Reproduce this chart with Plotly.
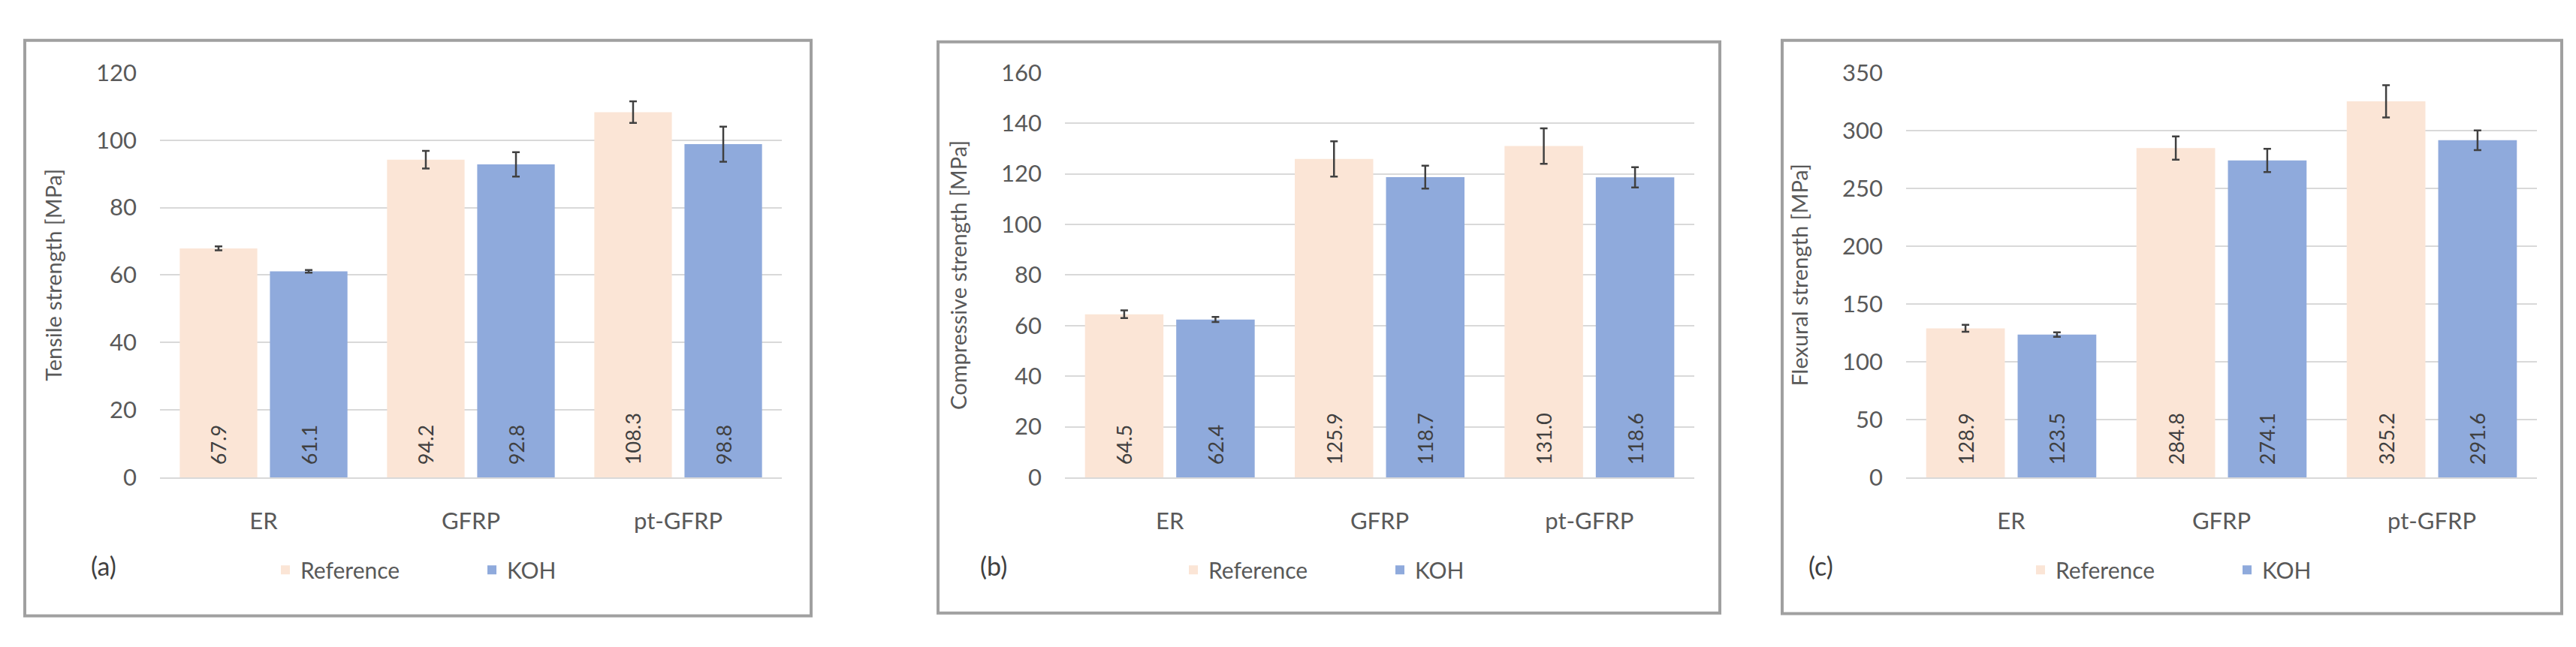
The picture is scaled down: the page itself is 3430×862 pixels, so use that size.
import plotly.graph_objects as go

categories = ["ER", "GFRP", "pt-GFRP"]
series_names = ["Reference", "KOH"]

tensile_ref = [67.9, 94.2, 108.3]
tensile_koh = [61.1, 92.8, 98.8]
tensile_ref_err = [0.6, 2.6, 3.2]
tensile_koh_err = [0.4, 3.6, 5.2]

compressive_ref = [64.5, 125.9, 131.0]
compressive_koh = [62.4, 118.7, 118.6]
compressive_ref_err = [1.5, 7.0, 7.0]
compressive_koh_err = [1.0, 4.5, 4.0]

flexural_ref = [128.9, 284.8, 325.2]
flexural_koh = [123.5, 274.1, 291.6]
flexural_ref_err = [3.0, 10.0, 14.0]
flexural_koh_err = [2.0, 10.0, 8.5]

y_titles = ["Tensile strength [MPa]", "Compressive strength [MPa]", "Flexural strength [MPa]"]
y_ranges = [(0, 120, 20), (0, 160, 20), (0, 350, 50)]
panel_labels = ["(a)", "(b)", "(c)"]

W, H = 3430, 862
REF_COLOR = "#FBE5D6"
KOH_COLOR = "#8FAADC"
TEXT_GRAY = "#595959"
FONT = "Lato, 'Open Sans', sans-serif"

# pixel layout of each panel: (box x0, box x1, box y0, box y1, plot x0, plot x1)
panels = [
    (25, 1072, 27, 829, 205, 1033),
    (1241, 2282, 29, 825, 1410, 2248),
    (2365, 3403, 27, 826, 2530, 3370),
]
plot_top, plot_bottom = 72, 636
legend_y = 765
legend_x = [352, 1561, 2689]
label_y = 782
label_x = [111, 1315, 2435]


def px(x):
    return x / W


def py(y):
    return 1 - y / H


fig = go.Figure()

data = [
    (tensile_ref, tensile_koh, tensile_ref_err, tensile_koh_err),
    (compressive_ref, compressive_koh, compressive_ref_err, compressive_koh_err),
    (flexural_ref, flexural_koh, flexural_ref_err, flexural_koh_err),
]

for i, (ref, koh, ref_err, koh_err) in enumerate(data):
    n = "" if i == 0 else str(i + 1)
    leg = "legend" if i == 0 else "legend" + str(i + 1)
    for name, vals, errs, color in [(series_names[0], ref, ref_err, REF_COLOR),
                                    (series_names[1], koh, koh_err, KOH_COLOR)]:
        fig.add_trace(go.Bar(
            x=categories, y=vals, name=name,
            xaxis="x" + n, yaxis="y" + n, legend=leg,
            marker=dict(color=color, line=dict(width=0)),
            error_y=dict(type="data", array=errs, color="#404040", thickness=2.5, width=5),
            # leading nbsp lifts the label off the baseline like the original
            text=["\u00a0\u00a0" + f"{v:.1f}" for v in vals],
            textposition="inside", insidetextanchor="start", textangle=-90,
            textfont=dict(family=FONT, size=27, color="#404040"),
            constraintext="none",
        ))

    bx0, bx1, by0, by1, x0, x1 = panels[i]
    lo, hi, step = y_ranges[i]
    fig.update_layout(**{
        "xaxis" + n: dict(
            domain=[px(x0), px(x1)], anchor="y" + n,
            showgrid=False, showline=True, linecolor="#D9D9D9", linewidth=2,
            ticks="", ticklabelstandoff=30,
            tickfont=dict(family=FONT, size=31, color=TEXT_GRAY),
        ),
        "yaxis" + n: dict(
            domain=[py(plot_bottom), py(plot_top)], anchor="x" + n,
            range=[lo, hi], dtick=step, tick0=0,
            showgrid=True, gridcolor="#D9D9D9", gridwidth=2,
            zeroline=False, showline=False, ticks="", ticklabelstandoff=30,
            tickfont=dict(family=FONT, size=31, color=TEXT_GRAY),
            title=dict(text=y_titles[i], standoff=36,
                       font=dict(family=FONT, size=29, color=TEXT_GRAY)),
        ),
        leg: dict(
            orientation="h", x=px(legend_x[i]), xanchor="left",
            y=py(legend_y), yanchor="middle",
            font=dict(family=FONT, size=30, color=TEXT_GRAY),
            bgcolor="rgba(0,0,0,0)", itemsizing="constant",
            entrywidth=230, entrywidthmode="pixels",
        ),
    })

    fig.add_shape(type="rect", xref="paper", yref="paper",
                  x0=px(bx0), x1=px(bx1), y0=py(by1), y1=py(by0),
                  line=dict(color="#A0A0A0", width=4), layer="below")
    fig.add_annotation(text=panel_labels[i], xref="paper", yref="paper",
                       x=px(label_x[i]), y=py(label_y), showarrow=False,
                       font=dict(family=FONT, size=34, color="#404040"))

fig.update_layout(
    width=W, height=H,
    margin=dict(l=0, r=0, t=0, b=0),
    paper_bgcolor="white", plot_bgcolor="white",
    barmode="group", bargap=0.13, bargroupgap=0.14,
    showlegend=True,
)

fig.write_html("out.html")
